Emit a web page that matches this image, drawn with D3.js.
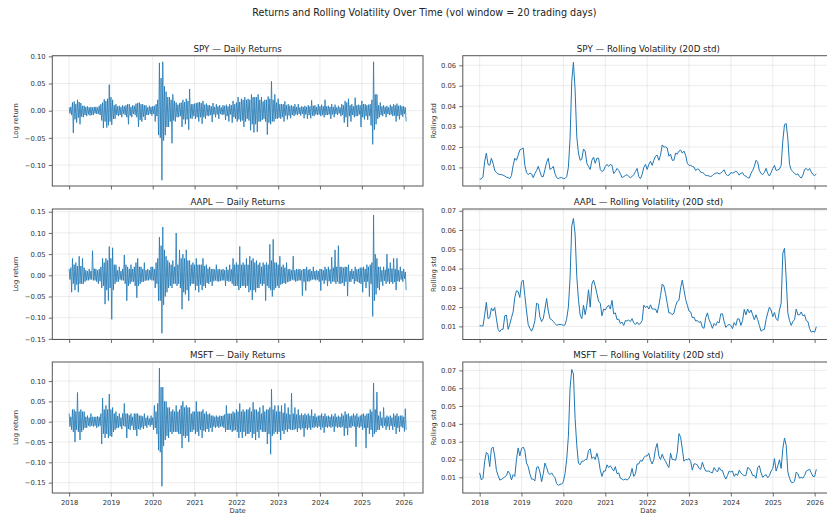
<!DOCTYPE html>
<html>
<head>
<meta charset="utf-8">
<script src="https://cdn.jsdelivr.net/npm/d3@7"></script>
<style>
  html, body { margin: 0; padding: 0; background: #fff; }
  svg { display: block; font-family: "DejaVu Sans", sans-serif; }
</style>
</head>
<body>
<svg id="chart" width="827" height="516"></svg>
<script>
// ---------------- DATA ----------------
// Decimal-year sampling grids
const startYear = 2018.0;
const retStep = 0.02;   // returns: one value every 0.02 year (up / down pairs)
const volStep = 0.04;   // rolling std: one value every 0.04 year
const tickers = ["SPY", "AAPL", "MSFT"];
const yearTicks = [2018, 2019, 2020, 2021, 2022, 2023, 2024, 2025, 2026];

const spyRet = [
  0.006,-0.005, 0.007,-0.008, 0.015,-0.041, 0.017,-0.016, 0.012,-0.022, 0.02,-0.013, 0.016,-0.025, 0.014,-0.011, 0.009,-0.012, 0.009,-0.008, 0.007,-0.01, 0.008,-0.007, 0.006,-0.009, 0.007,-0.008, 0.006,-0.008, 0.007,-0.005, 0.007,-0.006, 0.006,-0.006, 0.009,-0.008, 0.012,-0.018, 0.015,-0.032, 0.021,-0.02, 0.018,-0.031, 0.022,-0.027, 0.048,-0.02,
  0.025,-0.026, 0.02,-0.015, 0.01,-0.015, 0.012,-0.008, 0.008,-0.01, 0.009,-0.008, 0.007,-0.012, 0.01,-0.006, 0.008,-0.008, 0.01,-0.012, 0.012,-0.025, 0.012,-0.009, 0.007,-0.012, 0.01,-0.006, 0.009,-0.008, 0.013,-0.012, 0.014,-0.03, 0.015,-0.017, 0.012,-0.02, 0.012,-0.011, 0.01,-0.017, 0.01,-0.008, 0.006,-0.008, 0.009,-0.006, 0.007,-0.009,
  0.008,-0.006, 0.009,-0.02, 0.012,-0.01, 0.02,-0.045, 0.088,-0.05, 0.06,-0.128, 0.09,-0.055, 0.045,-0.045, 0.035,-0.03, 0.025,-0.03, 0.025,-0.02, 0.02,-0.06, 0.03,-0.018, 0.018,-0.02, 0.015,-0.012, 0.011,-0.012, 0.014,-0.01, 0.015,-0.03, 0.02,-0.016, 0.016,-0.025, 0.022,-0.016, 0.018,-0.035, 0.04,-0.014, 0.012,-0.015, 0.012,-0.01,
  0.013,-0.015, 0.014,-0.012, 0.015,-0.02, 0.016,-0.012, 0.014,-0.024, 0.018,-0.012, 0.011,-0.015, 0.013,-0.009, 0.01,-0.01, 0.01,-0.008, 0.008,-0.021, 0.014,-0.007, 0.007,-0.012, 0.012,-0.007, 0.008,-0.015, 0.01,-0.006, 0.006,-0.008, 0.01,-0.007, 0.009,-0.017, 0.011,-0.01, 0.008,-0.02, 0.012,-0.007, 0.01,-0.022, 0.018,-0.012, 0.012,-0.015,
  0.015,-0.02, 0.025,-0.016, 0.016,-0.02, 0.022,-0.018, 0.02,-0.03, 0.025,-0.02, 0.02,-0.015, 0.022,-0.018, 0.02,-0.036, 0.03,-0.025, 0.025,-0.04, 0.025,-0.025, 0.025,-0.039, 0.03,-0.02, 0.02,-0.02, 0.025,-0.017, 0.017,-0.015, 0.02,-0.02, 0.02,-0.044, 0.026,-0.022, 0.022,-0.025, 0.054,-0.02, 0.02,-0.02, 0.03,-0.015, 0.015,-0.015,
  0.022,-0.013, 0.012,-0.015, 0.012,-0.012, 0.012,-0.02, 0.017,-0.009, 0.01,-0.016, 0.012,-0.009, 0.009,-0.014, 0.01,-0.008, 0.008,-0.01, 0.012,-0.007, 0.007,-0.008, 0.012,-0.006, 0.006,-0.009, 0.008,-0.006, 0.007,-0.014, 0.009,-0.007, 0.007,-0.015, 0.01,-0.008, 0.008,-0.014, 0.019,-0.009, 0.009,-0.01, 0.01,-0.007, 0.007,-0.008, 0.012,-0.007,
  0.008,-0.01, 0.011,-0.008, 0.008,-0.012, 0.02,-0.008, 0.008,-0.008, 0.009,-0.007, 0.007,-0.015, 0.012,-0.007, 0.007,-0.012, 0.011,-0.006, 0.006,-0.008, 0.009,-0.005, 0.006,-0.01, 0.012,-0.008, 0.01,-0.022, 0.018,-0.012, 0.015,-0.03, 0.022,-0.01, 0.01,-0.02, 0.012,-0.008, 0.008,-0.012, 0.024,-0.01, 0.01,-0.01, 0.011,-0.007, 0.01,-0.03,
  0.018,-0.012, 0.012,-0.016, 0.012,-0.01, 0.01,-0.017, 0.011,-0.01, 0.012,-0.027, 0.02,-0.062, 0.09,-0.035, 0.03,-0.025, 0.03,-0.015, 0.01,-0.012, 0.015,-0.008, 0.008,-0.01, 0.01,-0.006, 0.007,-0.012, 0.009,-0.006, 0.006,-0.008, 0.011,-0.007, 0.008,-0.01, 0.012,-0.009, 0.01,-0.02, 0.013,-0.01, 0.009,-0.016, 0.01,-0.008, 0.008,-0.011,
  0.008,-0.006, 0.006,-0.02
];
const aaplRet = [
  0.015,-0.01, 0.018,-0.04, 0.04,-0.02, 0.025,-0.035, 0.03,-0.022, 0.022,-0.04, 0.045,-0.02, 0.022,-0.02, 0.04,-0.02, 0.018,-0.015, 0.012,-0.012, 0.01,-0.012, 0.015,-0.01, 0.01,-0.01, 0.058,-0.012, 0.016,-0.012, 0.015,-0.015, 0.012,-0.02, 0.015,-0.014, 0.02,-0.03, 0.04,-0.025, 0.03,-0.068, 0.04,-0.035, 0.035,-0.06, 0.068,-0.03,
  0.04,-0.104, 0.065,-0.035, 0.025,-0.02, 0.025,-0.015, 0.012,-0.015, 0.02,-0.01, 0.01,-0.012, 0.015,-0.012, 0.048,-0.02, 0.025,-0.06, 0.02,-0.025, 0.015,-0.02, 0.025,-0.015, 0.015,-0.015, 0.02,-0.025, 0.03,-0.053, 0.04,-0.025, 0.02,-0.02, 0.02,-0.016, 0.015,-0.015, 0.03,-0.013, 0.012,-0.012, 0.015,-0.012, 0.012,-0.01, 0.02,-0.012,
  0.02,-0.012, 0.015,-0.03, 0.03,-0.02, 0.04,-0.06, 0.09,-0.06, 0.07,-0.137, 0.114,-0.07, 0.06,-0.05, 0.045,-0.04, 0.035,-0.03, 0.03,-0.025, 0.025,-0.03, 0.035,-0.02, 0.02,-0.02, 0.1,-0.025, 0.025,-0.02, 0.06,-0.03, 0.04,-0.08, 0.05,-0.04, 0.04,-0.045, 0.06,-0.035, 0.035,-0.06, 0.035,-0.025, 0.025,-0.02, 0.03,-0.02,
  0.025,-0.035, 0.04,-0.025, 0.025,-0.04, 0.025,-0.022, 0.025,-0.035, 0.04,-0.025, 0.022,-0.03, 0.025,-0.018, 0.016,-0.02, 0.02,-0.015, 0.015,-0.025, 0.015,-0.014, 0.014,-0.012, 0.025,-0.014, 0.014,-0.015, 0.015,-0.013, 0.013,-0.012, 0.015,-0.012, 0.012,-0.025, 0.02,-0.013, 0.013,-0.015, 0.025,-0.014, 0.014,-0.02, 0.04,-0.025, 0.025,-0.025,
  0.03,-0.025, 0.025,-0.035, 0.068,-0.03, 0.025,-0.025, 0.03,-0.025, 0.025,-0.03, 0.04,-0.025, 0.025,-0.04, 0.045,-0.035, 0.035,-0.058, 0.04,-0.035, 0.03,-0.04, 0.035,-0.03, 0.025,-0.03, 0.03,-0.02, 0.02,-0.025, 0.03,-0.02, 0.025,-0.06, 0.03,-0.025, 0.025,-0.03, 0.073,-0.035, 0.035,-0.05, 0.085,-0.035, 0.03,-0.03, 0.03,-0.025,
  0.025,-0.03, 0.045,-0.022, 0.02,-0.02, 0.025,-0.018, 0.018,-0.02, 0.03,-0.016, 0.014,-0.015, 0.015,-0.013, 0.012,-0.01, 0.045,-0.012, 0.012,-0.015, 0.015,-0.013, 0.014,-0.012, 0.015,-0.012, 0.012,-0.048, 0.015,-0.015, 0.015,-0.036, 0.02,-0.014, 0.013,-0.015, 0.015,-0.012, 0.01,-0.01, 0.02,-0.01, 0.01,-0.012, 0.012,-0.01, 0.01,-0.015,
  0.015,-0.036, 0.015,-0.012, 0.012,-0.02, 0.02,-0.012, 0.015,-0.025, 0.02,-0.014, 0.014,-0.02, 0.043,-0.015, 0.018,-0.015, 0.06,-0.02, 0.02,-0.015, 0.07,-0.02, 0.02,-0.02, 0.02,-0.018, 0.018,-0.025, 0.02,-0.015, 0.02,-0.049, 0.025,-0.015, 0.01,-0.015, 0.015,-0.009, 0.01,-0.02, 0.02,-0.014, 0.014,-0.015, 0.015,-0.018, 0.018,-0.02,
  0.018,-0.04, 0.02,-0.015, 0.015,-0.03, 0.025,-0.015, 0.02,-0.05, 0.025,-0.02, 0.03,-0.097, 0.142,-0.06, 0.05,-0.045, 0.04,-0.03, 0.02,-0.035, 0.02,-0.015, 0.012,-0.025, 0.02,-0.013, 0.013,-0.02, 0.05,-0.015, 0.016,-0.02, 0.03,-0.016, 0.016,-0.02, 0.04,-0.016, 0.015,-0.035, 0.04,-0.014, 0.012,-0.015, 0.02,-0.01, 0.01,-0.015,
  0.015,-0.008, 0.008,-0.035
];
const msftRet = [
  0.02,-0.012, 0.012,-0.02, 0.03,-0.025, 0.03,-0.05, 0.025,-0.02, 0.072,-0.025, 0.025,-0.045, 0.03,-0.025, 0.025,-0.02, 0.025,-0.015, 0.012,-0.015, 0.015,-0.01, 0.01,-0.012, 0.02,-0.01, 0.012,-0.012, 0.012,-0.01, 0.012,-0.015, 0.013,-0.012, 0.012,-0.01, 0.02,-0.055, 0.058,-0.03, 0.03,-0.04, 0.04,-0.03, 0.03,-0.04, 0.068,-0.035,
  0.03,-0.037, 0.035,-0.025, 0.02,-0.02, 0.025,-0.016, 0.014,-0.015, 0.02,-0.012, 0.01,-0.018, 0.02,-0.01, 0.045,-0.012, 0.02,-0.04, 0.02,-0.018, 0.016,-0.02, 0.02,-0.01, 0.012,-0.02, 0.02,-0.02, 0.02,-0.035, 0.02,-0.018, 0.015,-0.02, 0.015,-0.014, 0.013,-0.018, 0.02,-0.01, 0.01,-0.015, 0.015,-0.008, 0.008,-0.012, 0.015,-0.008,
  0.01,-0.02, 0.04,-0.015, 0.025,-0.03, 0.045,-0.07, 0.132,-0.075, 0.085,-0.159, 0.085,-0.06, 0.05,-0.045, 0.05,-0.035, 0.035,-0.04, 0.035,-0.025, 0.025,-0.03, 0.03,-0.025, 0.025,-0.025, 0.04,-0.025, 0.025,-0.03, 0.03,-0.03, 0.04,-0.065, 0.05,-0.035, 0.035,-0.04, 0.04,-0.035, 0.035,-0.05, 0.035,-0.025, 0.02,-0.025, 0.025,-0.02,
  0.025,-0.03, 0.05,-0.025, 0.025,-0.035, 0.025,-0.02, 0.025,-0.04, 0.03,-0.022, 0.02,-0.025, 0.025,-0.018, 0.018,-0.025, 0.02,-0.015, 0.015,-0.025, 0.015,-0.012, 0.012,-0.015, 0.015,-0.012, 0.012,-0.015, 0.015,-0.012, 0.014,-0.012, 0.015,-0.015, 0.018,-0.025, 0.04,-0.02, 0.02,-0.02, 0.02,-0.02, 0.02,-0.025, 0.025,-0.022, 0.022,-0.02,
  0.03,-0.025, 0.025,-0.04, 0.045,-0.025, 0.025,-0.04, 0.03,-0.025, 0.025,-0.035, 0.03,-0.03, 0.03,-0.03, 0.035,-0.025, 0.025,-0.04, 0.048,-0.03, 0.03,-0.045, 0.03,-0.025, 0.025,-0.04, 0.035,-0.02, 0.02,-0.025, 0.04,-0.025, 0.025,-0.025, 0.03,-0.055, 0.03,-0.03, 0.035,-0.08, 0.08,-0.035, 0.03,-0.03, 0.04,-0.025, 0.025,-0.03,
  0.04,-0.025, 0.025,-0.045, 0.04,-0.022, 0.022,-0.03, 0.045,-0.02, 0.02,-0.025, 0.035,-0.018, 0.018,-0.02, 0.07,-0.02, 0.02,-0.02, 0.035,-0.018, 0.018,-0.025, 0.03,-0.016, 0.016,-0.02, 0.02,-0.016, 0.016,-0.037, 0.02,-0.016, 0.016,-0.02, 0.02,-0.015, 0.015,-0.02, 0.03,-0.014, 0.014,-0.015, 0.02,-0.012, 0.012,-0.015, 0.015,-0.012,
  0.015,-0.02, 0.02,-0.014, 0.014,-0.027, 0.02,-0.013, 0.013,-0.015, 0.015,-0.012, 0.012,-0.015, 0.018,-0.012, 0.013,-0.025, 0.02,-0.012, 0.012,-0.015, 0.015,-0.013, 0.012,-0.015, 0.02,-0.012, 0.015,-0.035, 0.025,-0.016, 0.018,-0.033, 0.02,-0.014, 0.013,-0.015, 0.015,-0.011, 0.02,-0.012, 0.015,-0.062, 0.02,-0.012, 0.012,-0.015, 0.015,-0.012,
  0.018,-0.02, 0.02,-0.015, 0.015,-0.065, 0.02,-0.015, 0.02,-0.03, 0.03,-0.02, 0.025,-0.037, 0.095,-0.03, 0.03,-0.025, 0.073,-0.02, 0.015,-0.02, 0.025,-0.01, 0.01,-0.015, 0.035,-0.01, 0.01,-0.02, 0.015,-0.012, 0.012,-0.02, 0.015,-0.01, 0.01,-0.02, 0.02,-0.012, 0.015,-0.03, 0.02,-0.015, 0.013,-0.025, 0.015,-0.012, 0.015,-0.015,
  0.012,-0.024, 0.032,-0.02
];

// Rolling 20-day std, sampled
const spyVol = [
  0.0042,0.0044,0.0055,0.013,0.017,0.0115,0.011,0.0145,0.012,0.0085,0.0075,0.0068,0.0066,0.0065,0.0062,0.0058,0.0052,0.005,0.0045,0.006,0.011,0.0145,0.0135,0.016,0.0185,
  0.019,0.0195,0.011,0.0075,0.0065,0.0072,0.0068,0.005,0.007,0.0085,0.0105,0.008,0.0055,0.0055,0.009,0.0125,0.0145,0.009,0.0095,0.0105,0.007,0.005,0.0045,0.005,0.005,
  0.0045,0.0046,0.0055,0.01,0.024,0.052,0.0615,0.048,0.025,0.017,0.0135,0.014,0.019,0.018,0.012,0.0105,0.009,0.0135,0.015,0.012,0.0145,0.0145,0.009,0.008,0.0085,
  0.0105,0.0115,0.0105,0.0115,0.011,0.007,0.008,0.0095,0.0085,0.007,0.005,0.0055,0.006,0.0065,0.0055,0.005,0.0055,0.0065,0.008,0.0095,0.0055,0.0045,0.0065,0.01,0.0115,
  0.009,0.0115,0.013,0.011,0.0135,0.0155,0.016,0.0135,0.016,0.021,0.02,0.02,0.0195,0.0155,0.0165,0.0135,0.0135,0.017,0.0165,0.018,0.0185,0.017,0.018,0.016,0.012,
  0.011,0.011,0.0105,0.0102,0.0085,0.0092,0.009,0.0076,0.0075,0.007,0.006,0.006,0.0058,0.0055,0.006,0.0068,0.0072,0.0073,0.0068,0.0072,0.008,0.0088,0.0068,0.006,0.0062,
  0.0075,0.0072,0.0075,0.0082,0.0075,0.0062,0.0072,0.0074,0.006,0.0057,0.005,0.0048,0.007,0.0085,0.0105,0.0135,0.0125,0.0085,0.007,0.0065,0.0075,0.0095,0.007,0.0058,0.0075,
  0.0095,0.011,0.0085,0.0088,0.0092,0.011,0.023,0.031,0.0315,0.024,0.0115,0.0088,0.008,0.007,0.0065,0.0068,0.0055,0.0048,0.0062,0.009,0.0095,0.0085,0.0095,0.0078,0.0065,
  0.006,0.0068
];
const aaplVol = [
  0.0105,0.0102,0.0102,0.016,0.0225,0.014,0.0145,0.0195,0.018,0.0198,0.014,0.0085,0.0072,0.0085,0.0085,0.0155,0.0158,0.0085,0.011,0.0145,0.0175,0.025,0.0285,0.028,0.025,
  0.033,0.034,0.026,0.018,0.011,0.009,0.0075,0.0095,0.013,0.022,0.0215,0.015,0.0125,0.014,0.019,0.0245,0.018,0.014,0.0135,0.0125,0.0115,0.0105,0.011,0.011,0.011,
  0.0105,0.0108,0.014,0.02,0.035,0.062,0.066,0.058,0.036,0.024,0.016,0.014,0.021,0.016,0.021,0.029,0.02,0.032,0.034,0.031,0.027,0.023,0.022,0.0155,0.019,
  0.0185,0.02,0.021,0.019,0.0235,0.0165,0.017,0.0135,0.0138,0.0115,0.0122,0.0105,0.013,0.0128,0.0133,0.0125,0.014,0.0118,0.011,0.0122,0.011,0.0115,0.013,0.021,0.0198,
  0.0205,0.019,0.0212,0.019,0.019,0.019,0.017,0.021,0.026,0.032,0.031,0.027,0.022,0.017,0.017,0.016,0.017,0.0205,0.023,0.0235,0.03,0.034,0.029,0.024,0.021,
  0.018,0.0175,0.0145,0.0148,0.0128,0.013,0.012,0.0125,0.0095,0.009,0.0145,0.017,0.0135,0.0115,0.009,0.0115,0.0105,0.0125,0.0118,0.0165,0.0165,0.0125,0.0095,0.0105,0.011,
  0.0105,0.0088,0.012,0.0105,0.014,0.0138,0.0105,0.013,0.0188,0.016,0.019,0.017,0.0185,0.016,0.0135,0.016,0.0135,0.0105,0.0075,0.0082,0.0085,0.0135,0.017,0.02,0.0185,
  0.015,0.0172,0.014,0.013,0.0185,0.022,0.048,0.0505,0.035,0.017,0.013,0.0105,0.0125,0.0135,0.019,0.016,0.016,0.0175,0.0155,0.016,0.013,0.0125,0.0088,0.007,0.0075,
  0.007,0.0098
];
const msftVol = [
  0.0125,0.0085,0.0095,0.019,0.024,0.023,0.016,0.026,0.027,0.022,0.014,0.011,0.0085,0.0088,0.0095,0.0102,0.011,0.0135,0.012,0.0085,0.0115,0.0105,0.02,0.0265,0.022,
  0.026,0.027,0.025,0.018,0.016,0.012,0.009,0.009,0.008,0.0155,0.016,0.013,0.0075,0.012,0.018,0.0155,0.0125,0.0115,0.0125,0.011,0.0098,0.0065,0.0055,0.006,0.0062,
  0.0075,0.012,0.02,0.033,0.06,0.0705,0.068,0.043,0.028,0.018,0.017,0.019,0.019,0.02,0.02,0.025,0.026,0.0205,0.0215,0.02,0.0235,0.02,0.014,0.0105,0.0135,
  0.0135,0.017,0.0155,0.0165,0.015,0.0135,0.016,0.012,0.0125,0.0095,0.009,0.0085,0.009,0.0085,0.0092,0.011,0.015,0.0105,0.012,0.0175,0.0175,0.0195,0.019,0.021,0.022,
  0.022,0.0235,0.0195,0.0175,0.02,0.026,0.029,0.022,0.02,0.023,0.0205,0.019,0.017,0.0155,0.0235,0.02,0.02,0.0195,0.024,0.0345,0.0325,0.026,0.019,0.02,0.0198,
  0.0205,0.019,0.014,0.0175,0.0175,0.017,0.015,0.0145,0.0185,0.0155,0.0135,0.0135,0.0135,0.0128,0.0125,0.0155,0.014,0.013,0.0155,0.014,0.0138,0.011,0.009,0.011,0.0135,
  0.013,0.0135,0.0105,0.012,0.011,0.014,0.0125,0.0115,0.011,0.011,0.0155,0.015,0.0135,0.011,0.011,0.0095,0.0155,0.0165,0.0125,0.01,0.011,0.0115,0.0098,0.011,0.0135,
  0.015,0.0205,0.0135,0.0165,0.0198,0.015,0.026,0.032,0.028,0.013,0.0095,0.0072,0.007,0.0078,0.013,0.012,0.0095,0.01,0.0095,0.011,0.0135,0.014,0.0145,0.0125,0.0105,
  0.0105,0.0145
];

// Axis tick values
const spyRetTicks  = [-0.10, -0.05, 0.00, 0.05, 0.10];
const aaplRetTicks = [-0.15, -0.10, -0.05, 0.00, 0.05, 0.10, 0.15];
const msftRetTicks = [-0.15, -0.10, -0.05, 0.00, 0.05, 0.10];
const spyVolTicks  = [0.01, 0.02, 0.03, 0.04, 0.05, 0.06];
const aaplVolTicks = [0.01, 0.02, 0.03, 0.04, 0.05, 0.06, 0.07];
const msftVolTicks = [0.01, 0.02, 0.03, 0.04, 0.05, 0.06, 0.07];

// ---------------- LAYOUT / STYLE ----------------
const W = 827, H = 516;
const cols = [{x0: 52.3, x1: 423}, {x0: 462.8, x1: 834}];
const rows = [{y0: 55.7, y1: 186}, {y0: 209, y1: 339.5}, {y0: 362, y1: 493}];
const retDomains = [[-0.1386, 0.1012], [-0.1515, 0.1565], [-0.1755, 0.147]];
const volDomains = [[0.0009, 0.0647], [0.0032, 0.0709], [0.0012, 0.0747]];
const lineColor = "#1f77b4";
const tickFont = 6.8, titleFont = 8.7, supFont = 9.6, labelFont = 6.8;

function toDate(y) {
  const Y = Math.floor(y), f = y - Y;
  const a = Date.UTC(Y, 0, 1), b = Date.UTC(Y + 1, 0, 1);
  return new Date(a + f * (b - a));
}

const retSeries = [spyRet, aaplRet, msftRet];
const volSeries = [spyVol, aaplVol, msftVol];
const retTicks = [spyRetTicks, aaplRetTicks, msftRetTicks];
const volTicks = [spyVolTicks, aaplVolTicks, msftVolTicks];

const tFirst = startYear;
const tLast = Math.max(startYear + (spyRet.length - 1) * retStep, startYear + (spyVol.length - 1) * volStep);
const pad = 0.05 * (tLast - tFirst);
const xDomain = [toDate(tFirst - pad), toDate(tLast + pad)];
const yearDates = yearTicks.map(y => toDate(y));

const svg = d3.select("#chart");
svg.append("rect").attr("width", W).attr("height", H).attr("fill", "#fff");

svg.append("text")
  .attr("x", 424.4).attr("y", 15.5)
  .attr("text-anchor", "middle")
  .attr("font-size", supFont).attr("fill", "#222")
  .text("Returns and Rolling Volatility Over Time (vol window = 20 trading days)");

const fmt = d3.format(".2f");
let clipId = 0;

function panel(col, row, values, step, yDomain, yTickVals, title, ylabel, showX, lw) {
  const {x0, x1} = cols[col];
  const {y0, y1} = rows[row];
  const x = d3.scaleTime().domain(xDomain).range([x0, x1]);
  const y = d3.scaleLinear().domain(yDomain).range([y1, y0]);
  const g = svg.append("g");

  const grid = g.append("g").attr("stroke", "#b0b0b0").attr("stroke-opacity", 0.3).attr("stroke-width", 0.8);
  grid.selectAll(".gx").data(yearDates).join("line")
    .attr("x1", d => x(d)).attr("x2", d => x(d)).attr("y1", y0).attr("y2", y1);
  grid.selectAll(".gy").data(yTickVals).join("line")
    .attr("x1", x0).attr("x2", x1).attr("y1", d => y(d)).attr("y2", d => y(d));

  const id = "clip" + (clipId++);
  g.append("clipPath").attr("id", id).append("rect")
    .attr("x", x0).attr("y", y0).attr("width", x1 - x0).attr("height", y1 - y0);
  const line = d3.line()
    .x((d, i) => x(toDate(startYear + i * step)))
    .y(d => y(d));
  g.append("path").datum(values)
    .attr("clip-path", `url(#${id})`)
    .attr("fill", "none").attr("stroke", lineColor)
    .attr("stroke-width", lw).attr("stroke-linejoin", "round")
    .attr("d", line);

  const ya = g.append("g").attr("transform", `translate(${x0},0)`)
    .call(d3.axisLeft(y).tickValues(yTickVals).tickFormat(fmt).tickSize(3.5).tickPadding(3.2));
  const xa = g.append("g").attr("transform", `translate(0,${y1})`)
    .call(d3.axisBottom(x).tickValues(yearDates)
      .tickFormat(showX ? d3.timeFormat("%Y") : () => "").tickSize(3.5).tickPadding(3.2));
  [ya, xa].forEach(a => {
    a.select(".domain").remove();
    a.selectAll("line").attr("stroke", "#444").attr("stroke-width", 0.8);
    a.selectAll("text").attr("font-size", tickFont).attr("fill", "#333")
      .attr("font-family", "DejaVu Sans");
  });

  g.append("rect").attr("x", x0).attr("y", y0).attr("width", x1 - x0).attr("height", y1 - y0)
    .attr("fill", "none").attr("stroke", "#555").attr("stroke-width", 1);

  g.append("text").attr("x", (x0 + x1) / 2).attr("y", y0 - 4.2)
    .attr("text-anchor", "middle").attr("font-size", titleFont).attr("fill", "#222").text(title);

  const lx = col === 0 ? 18.3 : 436.2;
  g.append("text")
    .attr("transform", `translate(${lx},${(y0 + y1) / 2}) rotate(-90)`)
    .attr("text-anchor", "middle").attr("font-size", labelFont).attr("fill", "#333").text(ylabel);

  if (showX) {
    g.append("text").attr("x", (x0 + x1) / 2).attr("y", 513.2)
      .attr("text-anchor", "middle").attr("font-size", labelFont).attr("fill", "#333").text("Date");
  }
}

tickers.forEach((t, r) => {
  const last = r === tickers.length - 1;
  panel(0, r, retSeries[r], retStep, retDomains[r], retTicks[r], `${t} — Daily Returns`, "Log return", last, 0.8);
  panel(1, r, volSeries[r], volStep, volDomains[r], volTicks[r], `${t} — Rolling Volatility (20D std)`, "Rolling std", last, 1.0);
});
</script>
</body>
</html>
